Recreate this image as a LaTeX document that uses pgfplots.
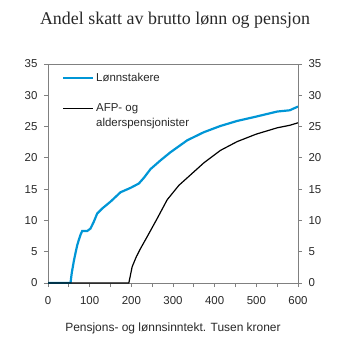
\documentclass[border=0pt]{standalone}
\usepackage{pgfplots}
\pgfplotsset{compat=1.18}
\usepackage{fontspec}
\setmainfont{Liberation Sans}
\newfontfamily\titlefont{Liberation Serif}
\definecolor{lblue}{RGB}{0,150,214}
\definecolor{axgray}{RGB}{128,128,128}
\definecolor{txt}{RGB}{40,40,40}
\begin{document}
\begin{tikzpicture}
\pgfplotsset{
  common/.style={
    at={(0,0)}, anchor=south west,
    scale only axis, width=250bp, height=219bp,
    xmin=0, xmax=600, ymin=0, ymax=35,
    ytick={0,5,...,35},
    axis line style={axgray, line width=0.8pt},
    tick style={axgray, line width=0.8pt},
    tick align=outside,
    major tick length=4bp,
    minor tick length=4bp,
    /pgf/number format/assume math mode=true,
    tick label style={font=\fontsize{11.5}{13}\selectfont, text=txt},
  }
}
\begin{axis}[common,
    axis x line*=bottom, axis y line*=left,
    xtick={0,100,...,600}, minor x tick num=1,
    yticklabel style={xshift=-3bp},
    xticklabel style={yshift=-6bp},
    xlabel={Pensjons- og lønnsinntekt. Tusen kroner},
    xlabel style={font=\fontsize{12}{14}\selectfont, text=txt, yshift=-11bp},
    legend style={at={(0.055,0.97)}, anchor=north west, draw=none, fill=none,
      font=\fontsize{11.5}{15}\selectfont, text=txt, row sep=17bp,
      inner sep=0pt, nodes={align=left}},
    legend cell align=left,
  ]
\addplot[lblue, line width=2.2pt,
  legend image code/.code={\draw[lblue, line width=2.2pt] (0bp,0bp) -- (30bp,0bp);}] coordinates {
(0,0)(54,0)(57,1.6)(62,3.5)(66,4.8)(70,6.0)(74,6.9)(78,7.7)(82,8.3)(94,8.3)
(102,8.7)(110,9.8)(118,11.1)(130,11.9)(150,13.0)(174,14.5)(198,15.2)(218,15.9)
(230,16.8)(246,18.2)(270,19.6)(294,20.9)(334,22.8)(374,24.1)(414,25.1)(454,25.9)
(500,26.6)(550,27.4)(580,27.6)(600,28.2)};
\addlegendentry{Lønnstakere}
\addplot[black, line width=1.2pt,
  legend image code/.code={\draw[black, line width=1.2pt] (0bp,7.5bp) -- (30bp,7.5bp);}] coordinates {
(0,0)(194,0)(202,2.6)(212,4.2)(222,5.5)(238,7.4)(262,10.3)(286,13.3)(314,15.6)
(334,16.8)(374,19.2)(414,21.2)(454,22.6)(500,23.8)(550,24.8)(580,25.2)(600,25.6)};
\addlegendentry{AFP- og\\alderspensjonister}
\end{axis}
\begin{axis}[common,
    axis x line=none, axis y line*=right,
    yticklabel style={xshift=3bp},
  ]
\end{axis}
\draw[axgray, line width=0.8pt] (0,219bp) -- (250bp,219bp);
\node[font=\titlefont\fontsize{18}{20}\selectfont, text=txt] at (127bp,263bp) {Andel skatt av brutto lønn og pensjon};
\path (-48bp,-70bp) rectangle (305bp,283bp);
\end{tikzpicture}
\end{document}
